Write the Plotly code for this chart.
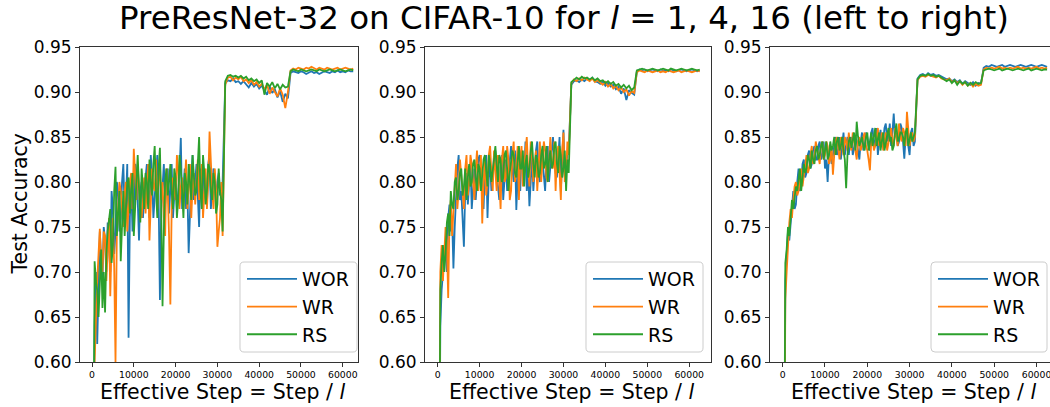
import plotly.graph_objects as go

# Test accuracy, stored in thousandths (e.g. 912 -> 0.912).
# Main readings every 625 effective steps (0 ... 62500); extra readings half-way between
# them over the noisy first phase (312.5, 937.5, ... ).
STEP = 625

wor_l1 = [100, 640, 620, 745, 690, 735, 755, 700, 770, 745,
          790, 760, 820, 780, 627, 800, 770, 810, 735, 800,
          785, 820, 760, 805, 780, 830, 669, 800, 775, 815,
          790, 760, 810, 785, 849, 790, 770, 721, 805, 780,
          820, 750, 800, 815, 775, 830, 790, 805, 800, 785,
          800, 910, 913, 912, 915, 911, 912, 909, 912, 908,
          905, 910, 906, 909, 904, 907, 902, 897, 906, 899,
          903, 894, 901, 889, 898, 893, 921, 923, 922, 921,
          923, 922, 920, 922, 923, 921, 922, 920, 922, 923,
          922, 921, 923, 922, 924, 922, 923, 922, 924, 923,
          923]
wor_l1_mid = [500, 700, 680, 715, 750, 700, 730, 790, 720, 800,
              745, 800, 765, 820, 760, 745, 820, 780, 790, 760,
              805, 790, 830, 760, 810, 785, 770, 820, 795, 765,
              820, 790, 770, 810, 770, 815, 795, 770, 830, 800,
              785, 815, 780, 795, 820, 770, 815, 780, 810, 790]
wr_l1 = [100, 600, 690, 748, 700, 740, 725, 673, 760, 600,
         770, 790, 750, 800, 775, 810, 837, 780, 795, 760,
         805, 790, 735, 815, 790, 770, 820, 800, 740, 790,
         664, 805, 780, 815, 795, 770, 825, 790, 760, 810,
         800, 780, 820, 795, 770, 856, 790, 815, 728, 760,
         740, 908, 916, 917, 913, 916, 914, 917, 912, 914,
         910, 913, 908, 911, 906, 909, 903, 908, 898, 905,
         900, 895, 904, 897, 882, 900, 924, 926, 925, 927,
         926, 925, 927, 926, 928, 926, 925, 927, 926, 925,
         927, 926, 925, 926, 927, 925, 926, 927, 926, 925,
         926]
wr_l1_mid = [450, 660, 720, 705, 745, 690, 760, 735, 705, 740,
             800, 765, 790, 745, 800, 770, 800, 820, 770, 790,
             765, 820, 780, 795, 825, 800, 780, 760, 815, 740,
             770, 790, 830, 770, 805, 800, 770, 820, 795, 775,
             825, 800, 760, 815, 800, 820, 770, 790, 745, 800]
rs_l1 = [100, 712, 680, 700, 660, 655, 745, 770, 730, 817,
         760, 712, 790, 770, 805, 790, 740, 800, 780, 815,
         770, 800, 825, 785, 840, 760, 838, 662, 800, 785,
         820, 770, 805, 780, 815, 760, 800, 820, 780, 810,
         790, 850, 770, 810, 790, 815, 780, 800, 775, 790,
         745, 912, 918, 919, 917, 918, 916, 918, 915, 917,
         913, 915, 912, 914, 910, 913, 897, 910, 906, 911,
         904, 909, 903, 908, 905, 906, 923, 925, 924, 923,
         925, 924, 923, 924, 925, 924, 923, 925, 924, 923,
         924, 925, 924, 923, 924, 925, 924, 923, 924, 925,
         924]
rs_l1_mid = [500, 690, 650, 725, 700, 720, 760, 710, 790, 740,
             790, 760, 740, 800, 765, 810, 780, 830, 755, 790,
             810, 770, 800, 820, 790, 815, 770, 745, 815, 800,
             790, 815, 760, 830, 790, 810, 775, 800, 830, 785,
             815, 790, 830, 775, 820, 790, 810, 765, 815, 780]

wor_l4 = [100, 640, 700, 735, 760, 745, 704, 795, 830, 790,
          728, 810, 795, 770, 815, 800, 830, 790, 815, 760,
          820, 805, 835, 795, 815, 780, 825, 810, 840, 800,
          769, 820, 835, 810, 790, 773, 830, 815, 845, 800,
          825, 790, 840, 820, 850, 810, 835, 790, 858, 820,
          835, 908, 912, 913, 911, 914, 912, 915, 913, 916,
          912, 911, 909, 912, 907, 910, 906, 908, 903, 906,
          898, 904, 891, 902, 899, 897, 923, 925, 924, 925,
          923, 924, 925, 924, 923, 925, 924, 924, 923, 925,
          924, 923, 924, 925, 924, 923, 924, 925, 924, 923,
          924]
wor_l4_mid = [450, 680, 725, 700, 775, 760, 750, 815, 780, 760,
              790, 775, 820, 800, 780, 825, 805, 770, 830, 805,
              790, 830, 810, 780, 830, 805, 790, 825, 815, 835,
              805, 790, 825, 845, 815, 800, 790, 835, 810, 830,
              805, 825, 800, 840, 825, 805, 850, 825, 805, 830]
wr_l4 = [100, 700, 690, 750, 671, 780, 765, 820, 790, 810,
         770, 830, 800, 820, 780, 835, 805, 754, 825, 800,
         840, 790, 815, 830, 770, 840, 805, 825, 790, 845,
         815, 780, 840, 810, 850, 795, 830, 815, 790, 845,
         820, 835, 800, 850, 815, 790, 840, 780, 855, 810,
         830, 910, 914, 912, 915, 913, 916, 914, 912, 915,
         911, 913, 910, 908, 911, 906, 909, 904, 907, 902,
         905, 900, 903, 896, 901, 899, 922, 924, 923, 922,
         924, 923, 922, 923, 924, 922, 923, 922, 924, 923,
         922, 923, 924, 922, 923, 924, 923, 922, 923, 924,
         923]
wr_l4_mid = [500, 730, 720, 735, 760, 740, 800, 770, 825, 790,
             815, 785, 830, 795, 815, 790, 830, 800, 785, 830,
             810, 835, 790, 805, 825, 800, 840, 780, 830, 800,
             840, 825, 795, 835, 815, 845, 800, 835, 820, 800,
             845, 805, 830, 820, 845, 830, 810, 835, 800, 845]
rs_l4 = [100, 680, 730, 720, 765, 790, 770, 805, 790, 815,
         795, 780, 820, 800, 825, 790, 815, 805, 830, 795,
         820, 810, 840, 800, 825, 805, 835, 790, 820, 830,
         805, 840, 815, 795, 830, 815, 845, 805, 825, 810,
         840, 820, 800, 835, 820, 845, 810, 830, 815, 790,
         810, 911, 914, 916, 914, 917, 915, 916, 914, 916,
         913, 915, 912, 913, 910, 912, 909, 911, 907, 909,
         905, 908, 904, 907, 902, 905, 924, 925, 926, 925,
         924, 925, 926, 925, 924, 925, 926, 925, 924, 926,
         925, 924, 925, 926, 925, 924, 925, 926, 925, 924,
         925]
rs_l4_mid = [480, 710, 700, 755, 740, 775, 800, 780, 810, 785,
             815, 805, 795, 820, 805, 820, 790, 825, 810, 830,
             800, 825, 815, 830, 800, 830, 815, 810, 835, 810,
             825, 815, 835, 820, 805, 835, 820, 830, 805, 830,
             815, 840, 825, 815, 840, 820, 840, 805, 835, 825]

wor_l16 = [100, 690, 745, 755, 790, 775, 815, 800, 825, 810,
           835, 820, 840, 825, 845, 830, 815, 800, 840, 830,
           850, 835, 825, 855, 840, 830, 850, 838, 845, 825,
           855, 840, 850, 835, 860, 845, 830, 858, 845, 865,
           850, 840, 876, 855, 845, 860, 826, 855, 830, 860,
           845, 915, 919, 920, 918, 921, 919, 920, 918, 919,
           917, 916, 914, 915, 912, 914, 911, 913, 909, 912,
           910, 908, 911, 907, 910, 909, 927, 929, 928, 930,
           929, 928, 929, 930, 928, 929, 930, 929, 928, 929,
           930, 929, 928, 929, 930, 929, 928, 929, 930, 929,
           928]
wor_l16_mid = [480, 720, 735, 775, 770, 800, 790, 820, 805, 830,
               815, 835, 825, 840, 825, 845, 825, 830, 820, 845,
               830, 850, 840, 830, 850, 845, 830, 850, 835, 845,
               835, 855, 840, 855, 840, 860, 845, 840, 860, 845,
               865, 855, 850, 840, 865, 845, 850, 840, 855, 840]
wr_l16 = [100, 670, 730, 770, 780, 800, 790, 815, 805, 830,
          815, 840, 825, 835, 820, 845, 830, 840, 825, 808,
          845, 835, 850, 830, 845, 855, 835, 845, 825, 850,
          840, 855, 835, 813, 850, 840, 860, 845, 835, 855,
          845, 860, 840, 850, 865, 845, 855, 878, 840, 855,
          850, 913, 917, 918, 917, 919, 918, 917, 916, 918,
          915, 914, 913, 915, 911, 913, 910, 912, 908, 911,
          907, 910, 906, 909, 907, 908, 925, 927, 926, 927,
          926, 927, 928, 926, 927, 926, 927, 926, 927, 928,
          926, 927, 926, 927, 926, 927, 928, 926, 927, 926,
          927]
wr_l16_mid = [450, 700, 755, 760, 795, 785, 805, 795, 820, 810,
              830, 820, 845, 825, 840, 825, 845, 820, 840, 830,
              850, 825, 840, 850, 835, 840, 855, 830, 845, 835,
              850, 840, 825, 845, 835, 850, 840, 855, 845, 835,
              855, 845, 860, 840, 850, 860, 840, 860, 850, 845]
rs_l16 = [100, 710, 750, 765, 770, 795, 805, 790, 820, 815,
          825, 835, 820, 840, 830, 845, 835, 825, 845, 840,
          830, 850, 840, 835, 793, 845, 838, 855, 867, 840,
          850, 835, 855, 845, 840, 860, 848, 835, 855, 845,
          860, 850, 840, 865, 848, 855, 840, 860, 850, 845,
          855, 914, 918, 919, 918, 920, 918, 919, 917, 918,
          916, 915, 912, 914, 910, 913, 908, 912, 909, 911,
          907, 910, 908, 911, 909, 910, 924, 925, 926, 925,
          924, 925, 926, 924, 925, 926, 925, 924, 925, 926,
          925, 924, 925, 926, 924, 925, 926, 925, 924, 925,
          925]
rs_l16_mid = [500, 725, 740, 780, 785, 790, 815, 805, 810, 830,
              815, 825, 835, 825, 840, 825, 845, 830, 835, 850,
              845, 835, 850, 825, 830, 850, 845, 835, 850, 845,
              840, 850, 835, 855, 850, 840, 855, 845, 835, 855,
              845, 835, 855, 845, 855, 850, 855, 840, 855, 850]

series_names = ["WOR", "WR", "RS"]
series_colors = ["#1f77b4", "#ff7f0e", "#2ca02c"]
panels_data = [
    [(wor_l1, wor_l1_mid), (wr_l1, wr_l1_mid), (rs_l1, rs_l1_mid)],
    [(wor_l4, wor_l4_mid), (wr_l4, wr_l4_mid), (rs_l4, rs_l4_mid)],
    [(wor_l16, wor_l16_mid), (wr_l16, wr_l16_mid), (rs_l16, rs_l16_mid)],
]
x_ticks = [0, 10000, 20000, 30000, 40000, 50000, 60000]
y_ticks = [0.60, 0.65, 0.70, 0.75, 0.80, 0.85, 0.90, 0.95]

W, H = 1050, 407
FONT = "DejaVu Sans"
AXC = "#333333"

def fx(p):
    return p / W

def fy(p):
    return 1 - p / H

def merged(main, mid):
    pts = [(i * STEP, v) for i, v in enumerate(main)]
    pts += [(i * STEP + STEP / 2, v) for i, v in enumerate(mid)]
    pts.sort()
    return [p[0] for p in pts], [p[1] / 1000 for p in pts]

# panel layout in pixels: (left, right), x range, legend frame (left, right)
panel_px = [(80, 358, [-2870, 63640], (240, 357)),
            (425, 711, [-3030, 65190], (586, 703)),
            (770, 1050, [-3000, 63190], (931, 1047))]
top_px, bot_px = 47, 362

fig = go.Figure()
shapes = []
annotations = []
for p, series in enumerate(panels_data):
    sfx = "" if p == 0 else str(p + 1)
    leg = "legend" if p == 0 else "legend" + str(p + 1)
    for s, (main, mid) in enumerate(series):
        xs, ys = merged(main, mid)
        fig.add_trace(go.Scatter(
            x=xs, y=ys, mode="lines", name=series_names[s],
            line=dict(color=series_colors[s], width=1.8),
            xaxis="x" + sfx, yaxis="y" + sfx, legend=leg,
        ))
    l, r, xr, (bx0, bx1) = panel_px[p]
    fig.layout["xaxis" + sfx] = dict(
        domain=[fx(l), fx(r)], range=xr, anchor="y" + sfx, automargin=False,
        tickvals=x_ticks, ticktext=[str(t) for t in x_ticks],
        tickfont=dict(size=9.3, color="black", family=FONT), ticklabeloverflow="allow",
        showline=True, linecolor=AXC, linewidth=1, mirror=True,
        ticks="outside", ticklen=4, tickcolor=AXC,
        showgrid=False, zeroline=False,
    )
    fig.layout["yaxis" + sfx] = dict(
        domain=[fy(bot_px), fy(top_px)], range=[0.6, 0.95], anchor="x" + sfx, automargin=False,
        tickvals=y_ticks, ticktext=["%.2f" % t for t in y_ticks],
        tickfont=dict(size=17, color="black", family=FONT),
        showline=True, linecolor=AXC, linewidth=1, mirror=(p < 2),
        ticks="outside", ticklen=4, tickcolor=AXC,
        showgrid=False, zeroline=False,
    )
    # legend frame (rounded)
    by0, by1, rad = 262, 352, 4
    pts = lambda x, y: "%f,%f" % (fx(x), fy(y))
    path = ("M " + pts(bx0 + rad, by0) + " L " + pts(bx1 - rad, by0) +
            " Q " + pts(bx1, by0) + " " + pts(bx1, by0 + rad) +
            " L " + pts(bx1, by1 - rad) + " Q " + pts(bx1, by1) + " " + pts(bx1 - rad, by1) +
            " L " + pts(bx0 + rad, by1) + " Q " + pts(bx0, by1) + " " + pts(bx0, by1 - rad) +
            " L " + pts(bx0, by0 + rad) + " Q " + pts(bx0, by0) + " " + pts(bx0 + rad, by0) + " Z")
    shapes.append(dict(type="path", path=path, xref="paper", yref="paper",
                       fillcolor="rgba(255,255,255,0.8)", line=dict(color="#cccccc", width=1),
                       layer="above"))
    fig.layout[leg] = dict(
        x=fx(bx0 + 2), y=fy(by0 - 2), xanchor="left", yanchor="top",
        bgcolor="rgba(0,0,0,0)", borderwidth=0,
        font=dict(size=19, color="black", family=FONT),
        itemwidth=50, tracegroupgap=0,
    )
    annotations.append(dict(
        text="Effective Step = Step / <i>l</i>", xref="paper", yref="paper",
        x=fx((l + r) / 2 + 3), y=fy(392), xanchor="center", yanchor="middle",
        showarrow=False, font=dict(size=20.5, color="black", family=FONT),
    ))

annotations.append(dict(
    text="Test Accuracy", xref="paper", yref="paper", x=fx(20), y=fy((top_px + bot_px) / 2),
    xanchor="center", yanchor="middle", textangle=-90, showarrow=False,
    font=dict(size=20.5, color="black", family=FONT),
))
annotations.append(dict(
    text="PreResNet-32 on CIFAR-10 for <i>l</i> = 1, 4, 16 (left to right)",
    xref="paper", yref="paper", x=fx(564), y=fy(18), xanchor="center", yanchor="middle",
    showarrow=False, font=dict(size=32.5, color="black", family=FONT),
))

fig.update_layout(
    width=W, height=H, margin=dict(l=0, r=0, t=0, b=0),
    paper_bgcolor="white", plot_bgcolor="white",
    font=dict(family=FONT, color="black"),
    shapes=shapes, annotations=annotations, showlegend=True,
)
fig.write_html("out.html")
